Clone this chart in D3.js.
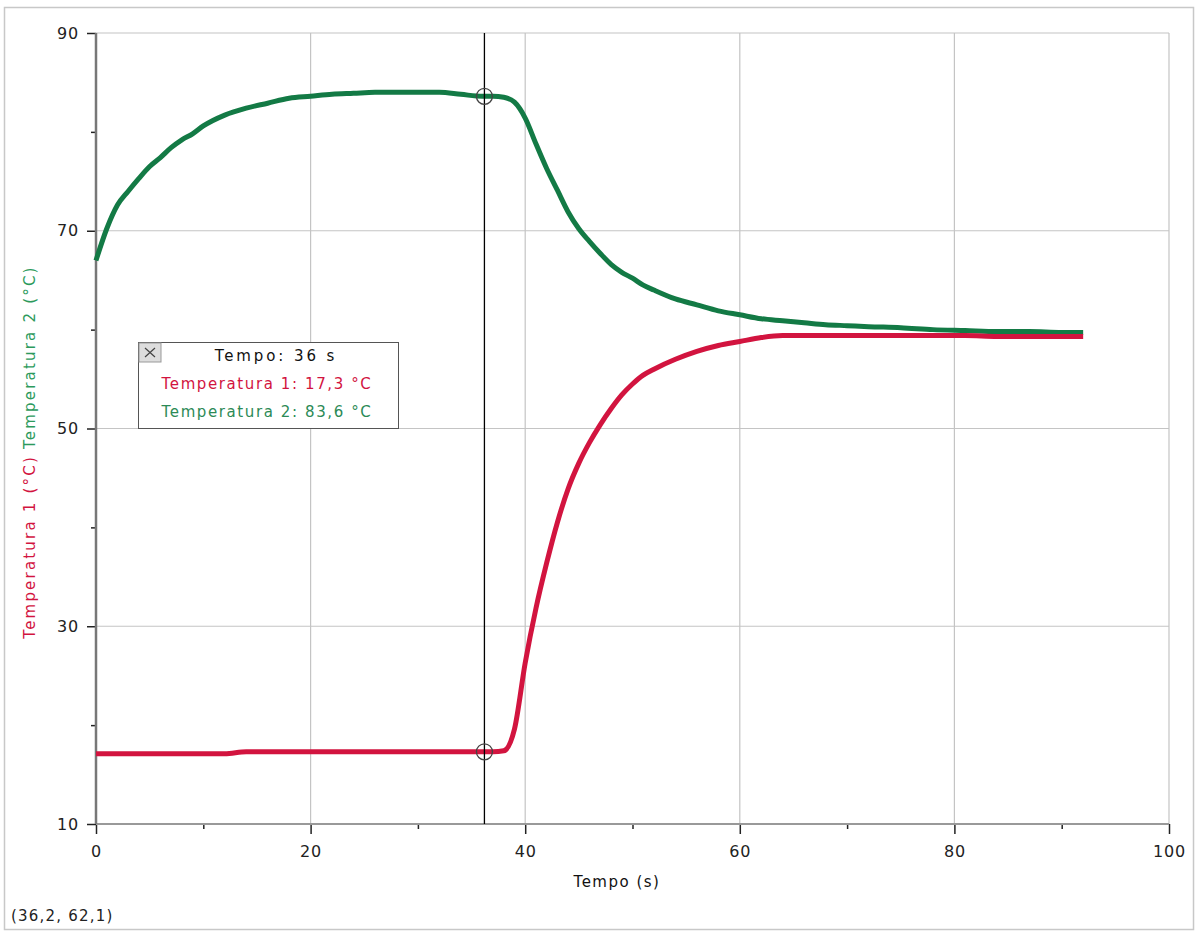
<!DOCTYPE html>
<html>
<head>
<meta charset="utf-8">
<script src="https://cdn.jsdelivr.net/npm/d3@7"></script>
<style>
  body { margin: 0; background: #fff; }
  svg text { font-family: "DejaVu Sans", Verdana, sans-serif; }
</style>
</head>
<body>
<svg id="chart" width="1201" height="933"></svg>
<script>
// tempo (s)
var tempo = [0,1,2,3,4,5,6,7,8,9,10,12,14,16,18,20,22,24,26,28,30,32,34,36,37,38,39,40,41,42,43,44,45,46,47,48,49,50,51,52,54,56,58,60,62,64,66,68,70,72,75,78,81,84,87,90,92];
// Temperatura 1 (°C)
var temp1 = [17.1,17.1,17.1,17.1,17.1,17.1,17.1,17.1,17.1,17.1,17.1,17.1,17.3,17.3,17.3,17.3,17.3,17.3,17.3,17.3,17.3,17.3,17.3,17.3,17.3,17.4,19.6,26.3,31.8,36.4,40.5,43.9,46.5,48.6,50.4,52.0,53.4,54.5,55.4,56.0,57.0,57.8,58.4,58.8,59.2,59.4,59.4,59.4,59.4,59.4,59.4,59.4,59.4,59.3,59.3,59.3,59.3];
// Temperatura 2 (°C)
var temp2 = [67.0,70.2,72.6,74.0,75.3,76.5,77.4,78.4,79.2,79.8,80.6,81.7,82.4,82.9,83.4,83.6,83.8,83.9,84.0,84.0,84.0,84.0,83.8,83.6,83.6,83.5,83.0,81.4,78.8,76.3,74.1,71.9,70.2,68.9,67.7,66.6,65.8,65.2,64.5,64.0,63.1,62.5,61.9,61.5,61.1,60.9,60.7,60.5,60.4,60.3,60.2,60.0,59.9,59.8,59.8,59.7,59.7];

var xMajor = [0,20,40,60,80,100];
var xMinor = [10,30,50,70,90];
var yMajor = [10,30,50,70,90];
var yMinor = [20,40,60,80];

var cursorT = 36.2;
var cursorT1 = 17.3, cursorT2 = 83.6;

var red = "#d2143f", green = "#137a45";

var svg = d3.select("#chart");
var x = d3.scaleLinear().domain([0,100]).range([96,1169]);
var y = d3.scaleLinear().domain([10,90]).range([824,33]);

// frame
svg.append("rect").attr("x",4.5).attr("y",7.5).attr("width",1189).attr("height",922)
  .attr("fill","none").attr("stroke","#c8c8c8").attr("stroke-width",1.5);

// grid
svg.append("g").selectAll("line").data(xMajor.slice(1)).enter().append("line")
  .attr("x1",function(d){return x(d);}).attr("x2",function(d){return x(d);})
  .attr("y1",y(90)).attr("y2",y(10))
  .attr("stroke","#c4c4c4").attr("stroke-width",1.2);
svg.append("g").selectAll("line").data(yMajor.slice(1)).enter().append("line")
  .attr("x1",x(0)).attr("x2",x(100))
  .attr("y1",function(d){return y(d);}).attr("y2",function(d){return y(d);})
  .attr("stroke","#c4c4c4").attr("stroke-width",1.2);

// axes
var xAxis = svg.append("g").attr("transform","translate(0,"+y(10)+")")
  .call(d3.axisBottom(x).tickValues(xMajor).tickSize(10).tickPadding(12).tickFormat(d3.format("d")));
var xAxisMinor = svg.append("g").attr("transform","translate(0,"+y(10)+")")
  .call(d3.axisBottom(x).tickValues(xMinor).tickSize(5).tickFormat(""));
var yAxis = svg.append("g").attr("transform","translate("+x(0)+",0)")
  .call(d3.axisLeft(y).tickValues(yMajor).tickSize(9).tickPadding(8).tickFormat(d3.format("d")));
var yAxisMinor = svg.append("g").attr("transform","translate("+x(0)+",0)")
  .call(d3.axisLeft(y).tickValues(yMinor).tickSize(5).tickFormat(""));

[xAxis,xAxisMinor,yAxis,yAxisMinor].forEach(function(g){
  g.select(".domain").remove();
  g.selectAll(".tick line").attr("stroke","#222").attr("stroke-width",1.5);
  g.selectAll("text").attr("fill","#222").style("font-size","16px").style("letter-spacing","0.8px")
    .style("font-family","\"DejaVu Sans\", Verdana, sans-serif");
});

svg.append("line").attr("x1",x(0)).attr("x2",x(100)).attr("y1",y(10)).attr("y2",y(10))
  .attr("stroke","#999").attr("stroke-width",2);
svg.append("line").attr("x1",x(0)).attr("x2",x(0)).attr("y1",y(90)).attr("y2",y(10))
  .attr("stroke","#777").attr("stroke-width",2.5);

// series
var line1 = d3.line().x(function(d,i){return x(tempo[i]);}).y(function(d){return y(d);}).curve(d3.curveMonotoneX);

svg.append("path").datum(temp2).attr("d",line1)
  .attr("fill","none").attr("stroke",green).attr("stroke-width",5).attr("stroke-linejoin","round");
svg.append("path").datum(temp1).attr("d",line1)
  .attr("fill","none").attr("stroke",red).attr("stroke-width",5).attr("stroke-linejoin","round");

// cursor
svg.append("line").attr("x1",x(cursorT)).attr("x2",x(cursorT)).attr("y1",y(90)).attr("y2",y(10))
  .attr("stroke","#000").attr("stroke-width",1.3);
svg.selectAll("circle.cur").data([cursorT1,cursorT2]).enter().append("circle")
  .attr("class","cur")
  .attr("cx",x(cursorT)).attr("cy",function(d){return y(d);}).attr("r",8)
  .attr("fill","none").attr("stroke","#444").attr("stroke-width",1.3);

// axis titles
svg.append("text").attr("x",617).attr("y",887).attr("text-anchor","middle")
  .style("font-size","15px").style("letter-spacing","1.5px").attr("fill","#111").text("Tempo (s)");

var yt = svg.append("text").attr("transform","translate(35,452) rotate(-90)")
  .attr("text-anchor","middle").style("font-size","15px").style("letter-spacing","2.2px");
yt.append("tspan").attr("fill",red).text("Temperatura 1 (°C)");
yt.append("tspan").attr("fill","#2c9a5c").attr("dx",6).text("Temperatura 2 (°C)");

// readout box
var box = svg.append("g").attr("transform","translate(138,342)");
box.append("rect").attr("x",0.5).attr("y",0.5).attr("width",260).attr("height",86)
  .attr("fill","#fff").attr("stroke","#555").attr("stroke-width",1);
box.append("rect").attr("x",1).attr("y",1).attr("width",22).attr("height",19)
  .attr("fill","#ddd").attr("stroke","#999");
box.append("path").attr("d","M7,6 L17,15 M17,6 L7,15").attr("stroke","#444").attr("stroke-width",1.2);
var lines = [
  {t:"Tempo: " + Math.floor(cursorT) + " s", c:"#111", ls:2.9, cx:138},
  {t:"Temperatura 1: " + d3.format(".1f")(cursorT1).replace(".",",") + " °C", c:red, ls:1.6, cx:129},
  {t:"Temperatura 2: " + d3.format(".1f")(cursorT2).replace(".",",") + " °C", c:"#2c8a56", ls:1.6, cx:129}
];
box.selectAll("text.rd").data(lines).enter().append("text").attr("class","rd")
  .attr("x",function(d){return d.cx;}).attr("y",function(d,i){return 19 + i*28;})
  .attr("text-anchor","middle").style("font-size","15px")
  .style("letter-spacing",function(d){return d.ls + "px";})
  .attr("fill",function(d){return d.c;}).text(function(d){return d.t;});

// coordinates
svg.append("text").attr("x",11).attr("y",921).style("font-size","15px").style("letter-spacing","1.2px")
  .attr("fill","#222").text("(36,2, 62,1)");
</script>
</body>
</html>
